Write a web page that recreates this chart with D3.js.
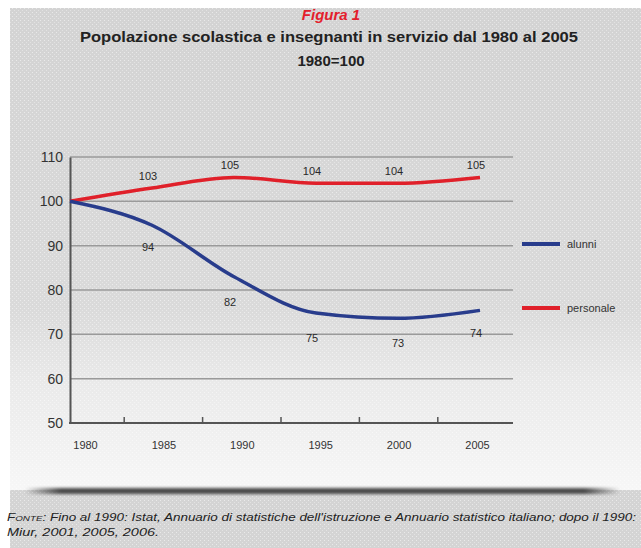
<!DOCTYPE html>
<html>
<head>
<meta charset="utf-8">
<script src="https://cdn.jsdelivr.net/npm/d3@7"></script>
<style>
  body { margin: 0; background: #fff; }
  svg { display: block; font-family: "Liberation Sans", Arial, sans-serif; }
</style>
</head>
<body>
<svg id="chart" width="641" height="548"></svg>
<script>
const years = ["1980", "1985", "1990", "1995", "2000", "2005"];
const alunni = [100, 94.6, 83, 74.8, 73.6, 75.4];
const personale = [100, 103, 105.4, 104.1, 104.1, 105.4];
const alunniLabels = ["", "94", "82", "75", "73", "74"];
const personaleLabels = ["", "103", "105", "104", "104", "105"];
const yTicks = [50, 60, 70, 80, 90, 100, 110];
const legendItems = ["alunni", "personale"];
const colors = { alunni: "#283c8c", personale: "#e0202a" };

const svg = d3.select("#chart");
const width = 641, height = 548;
const margin = { top: 157, left: 70, bottom: 423, right: 513 };

// background card + texture
const defs = svg.append("defs");
const grad = defs.append("linearGradient").attr("id", "bg").attr("x1", 0).attr("y1", 0).attr("x2", 0).attr("y2", 1);
grad.append("stop").attr("offset", "0%").attr("stop-color", "#d3d3d3");
grad.append("stop").attr("offset", "62%").attr("stop-color", "#dadada");
grad.append("stop").attr("offset", "78%").attr("stop-color", "#eaeaea");
grad.append("stop").attr("offset", "100%").attr("stop-color", "#f7f7f7");

const pat = defs.append("pattern").attr("id", "dots")
  .attr("width", 4).attr("height", 4).attr("patternUnits", "userSpaceOnUse");
pat.append("rect").attr("width", 1).attr("height", 1).attr("fill", "#fff").attr("opacity", 0.5);
pat.append("rect").attr("x", 2).attr("y", 2).attr("width", 1).attr("height", 1).attr("fill", "#fff").attr("opacity", 0.35);

const shadow = defs.append("linearGradient").attr("id", "shadow").attr("x1", 0).attr("y1", 0).attr("x2", 1).attr("y2", 0);
shadow.append("stop").attr("offset", "0%").attr("stop-color", "#4a4a4a").attr("stop-opacity", 0);
shadow.append("stop").attr("offset", "6%").attr("stop-color", "#4a4a4a").attr("stop-opacity", 1);
shadow.append("stop").attr("offset", "94%").attr("stop-color", "#4a4a4a").attr("stop-opacity", 1);
shadow.append("stop").attr("offset", "100%").attr("stop-color", "#4a4a4a").attr("stop-opacity", 0);

svg.append("rect").attr("x", 10).attr("y", 8).attr("width", width - 10).attr("height", height - 8).attr("fill", "#d4d4d4");
svg.append("rect").attr("x", 10).attr("y", 8).attr("width", width - 10).attr("height", 482).attr("fill", "url(#bg)");
svg.append("rect").attr("x", 10).attr("y", 8).attr("width", width - 10).attr("height", height - 8).attr("fill", "url(#dots)");
svg.append("rect").attr("x", 25).attr("y", 488).attr("width", 595).attr("height", 6)
  .attr("fill", "url(#shadow)").style("filter", "blur(1.5px)");

// titles
svg.append("text").attr("x", 331).attr("y", 20).attr("text-anchor", "middle")
  .attr("fill", "#e3202c").attr("font-size", 15).attr("font-weight", "bold").attr("font-style", "italic")
  .text("Figura 1");
svg.append("text").attr("x", 329).attr("y", 42).attr("text-anchor", "middle")
  .attr("fill", "#222").attr("font-size", 15).attr("font-weight", "bold")
  .attr("textLength", 498).attr("lengthAdjust", "spacingAndGlyphs")
  .text("Popolazione scolastica e insegnanti in servizio dal 1980 al 2005");
svg.append("text").attr("x", 331).attr("y", 66).attr("text-anchor", "middle")
  .attr("fill", "#222").attr("font-size", 15).attr("font-weight", "bold")
  .text("1980=100");

// scales
const y = d3.scaleLinear().domain([50, 110]).range([margin.bottom, margin.top]);
const x = d3.scalePoint().domain(years).range([margin.left, 480]);
const xLab = d3.scalePoint().domain(years).range([85, 477]);

// gridlines
svg.append("g").selectAll("line")
  .data(yTicks.filter(d => d > 50))
  .join("line")
  .attr("x1", margin.left).attr("x2", margin.right)
  .attr("y1", d => y(d)).attr("y2", d => y(d))
  .attr("stroke", "#9a9a9a").attr("stroke-width", 1.5);

// y axis
const yAxis = svg.append("g")
  .attr("transform", `translate(${margin.left},0)`)
  .call(d3.axisLeft(y).tickValues(yTicks).tickSize(0).tickPadding(7));
yAxis.select(".domain").attr("stroke", "#555").attr("stroke-width", 2);
yAxis.selectAll("text").attr("font-size", 14).attr("fill", "#333").attr("font-family", "Liberation Sans, Arial, sans-serif");

// x axis
const xAxis = svg.append("g")
  .attr("transform", `translate(0,${margin.bottom})`)
  .call(d3.axisBottom(xLab).tickSize(0).tickPadding(18));
xAxis.select(".domain").remove();
xAxis.selectAll("text").attr("font-size", 11).attr("fill", "#333").attr("font-family", "Liberation Sans, Arial, sans-serif");
svg.append("line")
  .attr("x1", margin.left - 1).attr("x2", margin.right)
  .attr("y1", margin.bottom).attr("y2", margin.bottom)
  .attr("stroke", "#555").attr("stroke-width", 2);
const mids = years.slice(0, -1).map((d, i) => (xLab(d) + xLab(years[i + 1])) / 2);
svg.append("g").selectAll("line")
  .data(mids)
  .join("line")
  .attr("x1", d => d).attr("x2", d => d)
  .attr("y1", margin.bottom).attr("y2", margin.bottom - 6)
  .attr("stroke", "#555").attr("stroke-width", 1.5);

// lines
const line = d3.line()
  .x((d, i) => x(years[i]))
  .y(d => y(d))
  .curve(d3.curveMonotoneX);

[["personale", personale], ["alunni", alunni]].forEach(([name, vals]) => {
  svg.append("path")
    .datum(vals)
    .attr("fill", "none")
    .attr("stroke", colors[name])
    .attr("stroke-width", 3.5)
    .attr("stroke-linejoin", "round")
    .attr("d", line);
});

// value labels
const labelFont = g => g.attr("font-size", 11).attr("fill", "#2a2a2a").attr("text-anchor", "middle");
svg.append("g").call(labelFont).selectAll("text")
  .data(personaleLabels)
  .join("text")
  .attr("x", (d, i) => x(years[i]) - 4)
  .attr("y", (d, i) => y(personale[i]) - 8)
  .text(d => d);
svg.append("g").call(labelFont).selectAll("text")
  .data(alunniLabels)
  .join("text")
  .attr("x", (d, i) => x(years[i]) - 4 + (i === 4 ? 4 : 0))
  .attr("y", (d, i) => y(alunni[i]) + (i === 1 ? 26 : i === 5 ? 27 : 29))
  .text(d => d);

// legend
const legend = svg.append("g").selectAll("g")
  .data(legendItems)
  .join("g")
  .attr("transform", (d, i) => `translate(522,${244 + i * 64})`);
legend.append("line")
  .attr("x1", 0).attr("x2", 38)
  .attr("stroke", d => colors[d]).attr("stroke-width", 4);
legend.append("text")
  .attr("x", 45).attr("y", 4)
  .attr("font-size", 11).attr("fill", "#333")
  .text(d => d);

// source note
const note = svg.append("text").attr("font-size", 11).attr("font-style", "italic").attr("fill", "#222");
const first = note.append("tspan").attr("x", 7).attr("y", 521)
  .attr("textLength", 629).attr("lengthAdjust", "spacingAndGlyphs");
first.append("tspan").text("F");
first.append("tspan").attr("font-size", 8).text("ONTE");
first.append("tspan").text(": Fino al 1990: Istat, Annuario di statistiche dell'istruzione e Annuario statistico italiano; dopo il 1990:");
note.append("tspan").attr("x", 7).attr("y", 536).attr("textLength", 152).attr("lengthAdjust", "spacingAndGlyphs")
  .text("Miur, 2001, 2005, 2006.");
</script>
</body>
</html>
